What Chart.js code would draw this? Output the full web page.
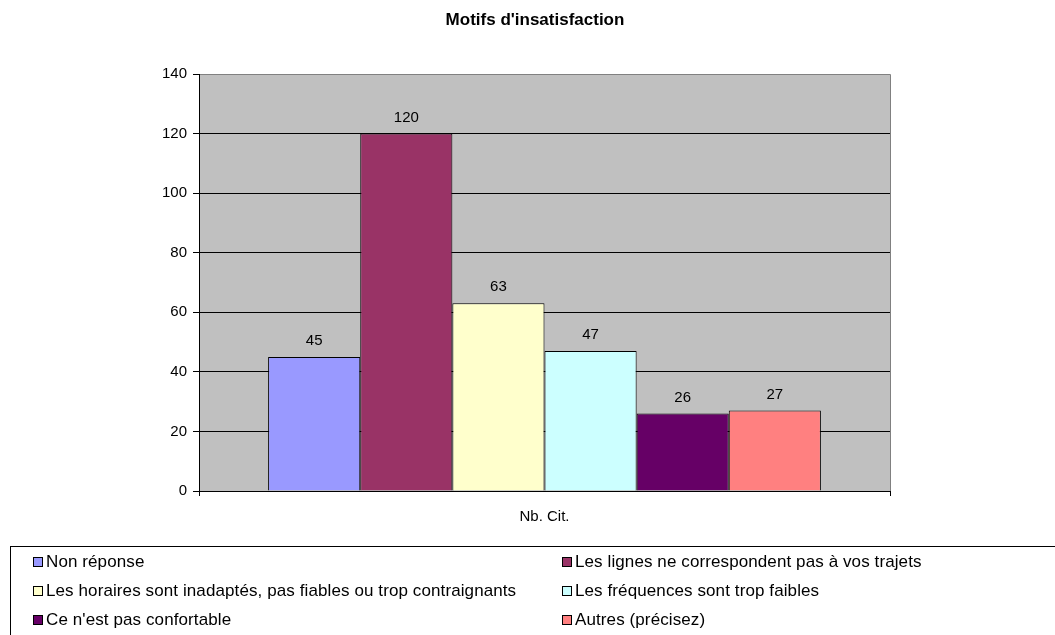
<!DOCTYPE html>
<html>
<head>
<meta charset="utf-8">
<script src="https://cdn.jsdelivr.net/npm/chart.js@4.4.1/dist/chart.umd.min.js"></script>
<style>
  html, body { margin: 0; padding: 0; background: #fff; overflow: hidden; }
  #wrap { position: relative; width: 1070px; height: 635px; }
  #legend {
    position: absolute; left: 10px; top: 546px; width: 1080px; height: 100px;
    border: 1px solid #000; box-sizing: border-box;
    font-family: "Liberation Sans", Arial, sans-serif; font-size: 17px; letter-spacing: 0.1px; color: #000;
  }
  .item { position: absolute; white-space: nowrap; line-height: 18px; }
  .item span.box {
    display: inline-block; width: 8px; height: 8px; border: 1px solid #000;
    margin-right: 3px; vertical-align: 0px;
  }
</style>
</head>
<body>
<div id="wrap">
  <canvas id="myBarChart"></canvas>
  <div id="legend"></div>
</div>
<script>
  const chartTitle = "Motifs d'insatisfaction";
  const categories = ['Nb. Cit.'];
  const seriesNames = [
    'Non réponse',
    'Les lignes ne correspondent pas à vos trajets',
    'Les horaires sont inadaptés, pas fiables ou trop contraignants',
    'Les fréquences sont trop faibles',
    "Ce n'est pas confortable",
    'Autres (précisez)'
  ];
  const seriesValues = [45, 120, 63, 47, 26, 27];
  const seriesColors = ['#9999FF', '#993366', '#FFFFCC', '#CCFFFF', '#660066', '#FF8080'];
  const yTicks = [0, 20, 40, 60, 80, 100, 120, 140];

  const font = 'Liberation Sans';

  // grey plot area with the Excel-like frame
  const plotBg = {
    id: 'plotBg',
    beforeDraw(chart) {
      const { ctx, chartArea: a } = chart;
      ctx.save();
      ctx.fillStyle = '#C0C0C0';
      ctx.fillRect(a.left, a.top, a.right - a.left, a.bottom - a.top);
      ctx.strokeStyle = '#808080';
      ctx.lineWidth = 1;
      ctx.beginPath();
      ctx.moveTo(a.left, a.top + 0.5);
      ctx.lineTo(a.right + 0.5, a.top + 0.5);
      ctx.lineTo(a.right + 0.5, a.bottom);
      ctx.stroke();
      ctx.restore();
    }
  };

  // title centred on the page, not on the layout box
  const pageTitle = {
    id: 'pageTitle',
    afterDraw(chart) {
      const { ctx } = chart;
      ctx.save();
      ctx.font = 'bold 17px "' + font + '"';
      ctx.fillStyle = '#000';
      ctx.textAlign = 'center';
      ctx.textBaseline = 'middle';
      ctx.fillText(chartTitle, chart.width / 2, 20);
      ctx.restore();
    }
  };

  // values above bars
  const valueLabels = {
    id: 'valueLabels',
    afterDatasetsDraw(chart) {
      const { ctx } = chart;
      ctx.save();
      ctx.font = '15px "' + font + '"';
      ctx.fillStyle = '#000';
      ctx.textAlign = 'center';
      ctx.textBaseline = 'middle';
      chart.data.datasets.forEach((ds, i) => {
        const meta = chart.getDatasetMeta(i);
        meta.data.forEach((bar, j) => {
          ctx.fillText(ds.data[j], bar.x, bar.y - 16);
        });
      });
      ctx.restore();
    }
  };

  const datasets = seriesNames.map((name, i) => ({
    label: name,
    data: [seriesValues[i]],
    backgroundColor: seriesColors[i],
    borderColor: '#000',
    borderWidth: 1
  }));

  const ctx = document.getElementById('myBarChart').getContext('2d');
  const myBarChart = new Chart(ctx, {
    type: 'bar',
    data: { labels: categories, datasets: datasets },
    options: {
      responsive: true,
      maintainAspectRatio: false,
      animation: false,
      categoryPercentage: 0.8,
      barPercentage: 1.0,
      layout: { padding: { left: 0, right: 180, top: 74, bottom: 94 } },
      plugins: {
        legend: { display: false },
        tooltip: { enabled: false },
        title: { display: false }
      },
      scales: {
        x: {
          afterFit: (s) => { s.height = 50; },
          grid: { display: true, drawOnChartArea: false, tickLength: 5, color: '#000' },
          border: { color: '#000' },
          ticks: { color: '#000', font: { family: font, size: 15 }, padding: 12 }
        },
        y: {
          min: 0,
          max: 140,
          afterFit: (s) => { s.width = 199; },
          afterBuildTicks: (s) => { s.ticks = yTicks.map(v => ({ value: v })); },
          grid: {
            color: (c) => c.tick && c.tick.value === 140 ? '#808080' : '#000',
            tickColor: '#000',
            tickLength: 6
          },
          border: { color: '#000' },
          ticks: { color: '#000', font: { family: font, size: 15 }, padding: 6 }
        }
      }
    },
    plugins: [plotBg, valueLabels, pageTitle]
  });

  // legend in a box, two columns like the original
  const legend = document.getElementById('legend');
  const colX = [22, 551];
  const rowY = [6, 35, 64];
  seriesNames.forEach((name, i) => {
    const el = document.createElement('div');
    el.className = 'item';
    el.style.left = colX[i % 2] + 'px';
    el.style.top = rowY[Math.floor(i / 2)] + 'px';
    el.innerHTML = '<span class="box" style="background:' + seriesColors[i] + '"></span>' + name;
    legend.appendChild(el);
  });
</script>
</body>
</html>
